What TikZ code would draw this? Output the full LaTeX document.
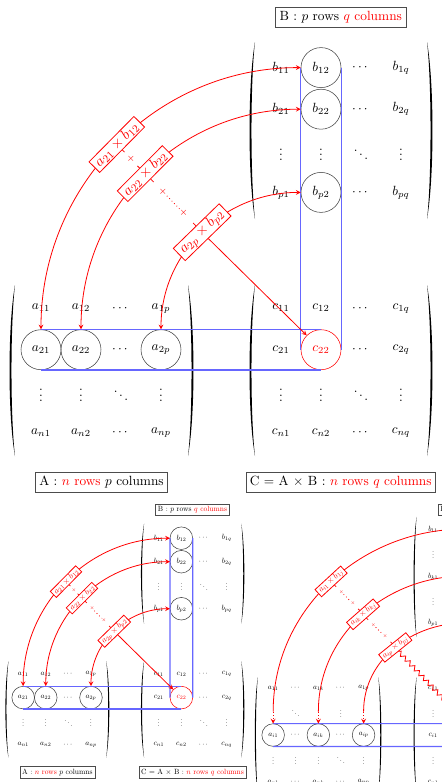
\documentclass[tikz,border=0pt]{standalone}
\usepackage{amsmath, amssymb}
\usepackage{tikz}
\usetikzlibrary{arrows, positioning, calc, decorations.pathmorphing}

\tikzset{
  ent/.style={},
  hl/.style={circle, draw=black!75, minimum size=30pt, inner sep=0pt},
  hlr/.style={hl, draw=red, text=red},
  lab/.style={draw=black!70, fill=white, inner sep=3pt},
  prod/.style={draw=red, fill=white, text=red, sloped, font=\fontsize{11}{13}\selectfont, inner xsep=3pt, inner ysep=1pt},
  plus/.style={text=red, font=\scriptsize, inner sep=1pt, sloped},
  prodline/.style={red, line width=.6pt, >=stealth},
  band/.style={blue!60, line width=.9pt},
}

% one bracket: x of its outer side, top, bottom, 1 for ( and -1 for )
\newcommand{\mparen}[4]{%
  \fill ({#1+5*(#4)}, #2) .. controls ({#1-2.3*(#4)}, {#2-40}) and ({#1-2.3*(#4)}, {#3+40}) .. ({#1+5*(#4)}, #3)
    .. controls ({#1+.3*(#4)}, {#3+40}) and ({#1+.3*(#4)}, {#2-40}) .. cycle;}

% the whole n x p times p x q picture
\newcommand{\mmfig}{%
  \foreach \e/\s [count=\c] in {a_{11}/ent, a_{12}/ent, \cdots/ent, a_{1p}/ent}
    \node[\s] (A-1-\c) at (1+40*\c, -308.1) {$\e$};
  \foreach \e/\s [count=\c] in {a_{21}/hl, a_{22}/hl, \cdots/ent, a_{2p}/hl}
    \node[\s] (A-2-\c) at (1+40*\c, -349.7) {$\e$};
  \foreach \e/\s [count=\c] in {\vdots/ent, \vdots/ent, \ddots/ent, \vdots/ent}
    \node[\s] (A-3-\c) at (1+40*\c, -391.3) {$\e$};
  \foreach \e/\s [count=\c] in {a_{n1}/ent, a_{n2}/ent, \cdots/ent, a_{np}/ent}
    \node[\s] (A-4-\c) at (1+40*\c, -432.9) {$\e$};

  \foreach \e/\s [count=\c] in {b_{11}/ent, b_{12}/hl, \cdots/ent, b_{1q}/ent}
    \node[\s] (B-1-\c) at (241+40*\c, -67.6) {$\e$};
  \foreach \e/\s [count=\c] in {b_{21}/ent, b_{22}/hl, \cdots/ent, b_{2q}/ent}
    \node[\s] (B-2-\c) at (241+40*\c, -109.2) {$\e$};
  \foreach \e/\s [count=\c] in {\vdots/ent, \vdots/ent, \ddots/ent, \vdots/ent}
    \node[\s] (B-3-\c) at (241+40*\c, -150.8) {$\e$};
  \foreach \e/\s [count=\c] in {b_{p1}/ent, b_{p2}/hl, \cdots/ent, b_{pq}/ent}
    \node[\s] (B-4-\c) at (241+40*\c, -192.4) {$\e$};

  \foreach \e/\s [count=\c] in {c_{11}/ent, c_{12}/ent, \cdots/ent, c_{1q}/ent}
    \node[\s] (C-1-\c) at (241+40*\c, -308.1) {$\e$};
  \foreach \e/\s [count=\c] in {c_{21}/ent, c_{22}/hlr, \cdots/ent, c_{2q}/ent}
    \node[\s] (C-2-\c) at (241+40*\c, -349.7) {$\e$};
  \foreach \e/\s [count=\c] in {\vdots/ent, \vdots/ent, \ddots/ent, \vdots/ent}
    \node[\s] (C-3-\c) at (241+40*\c, -391.3) {$\e$};
  \foreach \e/\s [count=\c] in {c_{n1}/ent, c_{n2}/ent, \cdots/ent, c_{nq}/ent}
    \node[\s] (C-4-\c) at (241+40*\c, -432.9) {$\e$};

  \mparen{10}{-285}{-456}{1}   \mparen{193}{-285}{-456}{-1}
  \mparen{250}{-42}{-219}{1}   \mparen{432}{-42}{-219}{-1}
  \mparen{250}{-285}{-456}{1}  \mparen{432}{-285}{-456}{-1}

  \node[lab] (LA) at (101.5,-482) {A : \textcolor{red}{$n$ rows} $p$ columns};
  \node[lab] (LC) at (340.75,-482) {C = A $\times$ B : \textcolor{red}{$n$ rows $q$ columns}};
  \node[lab] (LB) at (340.75,-17.5) {B : $p$ rows \textcolor{red}{$q$ columns}};

  \draw[band] (A-2-1.north) -- (C-2-2.north) (A-2-1.south) -- (C-2-2.south);
  \draw[band] (B-1-2.west) -- (C-2-2.west) (B-1-2.east) -- (C-2-2.east);

  \draw[prodline, <->] (A-2-1.north) to[out=90, in=180] node[prod] (p1) {$a_{21}\times b_{12}$} (B-1-2.west);
  \draw[prodline, <->] (A-2-2.north) to[out=90, in=180] node[prod] (p2) {$a_{22}\times b_{22}$} (B-2-2.west);
  \draw[prodline, <->] (A-2-4.north) to[out=90, in=180] node[prod] (p3) {$a_{2p}\times b_{p2}$} (B-4-2.west);

  \path (p1.south) -- node[plus] (s0) {$+$} (p2.north);
  \draw[prodline] (p1.south) -- ++(-45:3) (p2.north) -- ++(135:3);
  \path (p2.south) -- node[plus, pos=.27] (s1) {$+$} node[plus, pos=.73] (s2) {$+$} (p3.north);
  \draw[prodline] (p2.south) -- ++(-45:4) (p3.north) -- ++(135:4);
  \draw[prodline, dotted] (s1) -- (s2);
  \draw[prodline, ->] (p3.south) -- (C-2-2.north west);
}

\begin{document}
\begin{tikzpicture}[x=0.75pt, y=0.75pt]
\useasboundingbox (0,0) rectangle (442,-782);

\mmfig

% smaller copy
\begin{scope}[shift={(0,-500)}, scale=0.565, transform shape]
  \mmfig
\end{scope}

% general case, cut by the frame
\begin{scope}
\clip (0,0) rectangle (442,-782);
\begin{scope}[shift={(250,-514)}, scale=0.565, transform shape]
  \foreach \e/\s [count=\c] in {a_{11}/ent, \cdots/ent, a_{1k}/ent, \cdots/ent, a_{1p}/ent}
    \node[\s] (Ag-1-\c) at (1+40*\c, -308) {$\e$};
  \foreach \c in {1,3,5}
    \coordinate (Ag-2-\c) at (1+40*\c, -349.6);
  \node (Ag-2-2) at (81, -349.6) {$\ddots$};
  \node (Ag-2-4) at (161, -349.6) {$\vdots$};
  \foreach \e/\s [count=\c] in {a_{i1}/hl, \cdots/ent, a_{ik}/hl, \cdots/ent, a_{ip}/hl}
    \node[\s] (Ag-3-\c) at (1+40*\c, -391.2) {$\e$};
  \foreach \e/\s [count=\c] in {\vdots/ent, \vdots/ent, \vdots/ent, \ddots/ent, \vdots/ent}
    \node[\s] (Ag-4-\c) at (1+40*\c, -432.8) {$\e$};
  \foreach \e/\s [count=\c] in {a_{n1}/ent, \cdots/ent, a_{nk}/ent, \cdots/ent, a_{np}/ent}
    \node[\s] (Ag-5-\c) at (1+40*\c, -474.4) {$\e$};

  \foreach \e/\y [count=\r] in {c_{11}/308, \vdots/349.6, c_{i1}/391.2, \vdots/432.8, c_{n1}/474.4}
    \node (Cg-\r-1) at (324, -\y) {$\e$};
  \node[hlr] (Cg-3-3) at (404, -391.2) {$c_{ij}$};

  \foreach \e/\y [count=\r] in {b_{11}/26.7, \vdots/68.3, b_{k1}/109.9, \vdots/151.5, b_{p1}/193.1}
    \node (Bg-\r-1) at (324, -\y) {$\e$};
  \node[hl] (Bg-1-3) at (404, -26.7) {$b_{1j}$};
  \node[hl] (Bg-3-3) at (404, -109.9) {$b_{kj}$};
  \node[hl] (Bg-5-3) at (404, -193.1) {$b_{pj}$};

  \mparen{9}{-288.5}{-494}{1}  \mparen{232}{-288.5}{-494}{-1}
  \mparen{290}{-5}{-218}{1}
  \mparen{290}{-288.5}{-494}{1}

  \node[lab] (LBg) at (398,8) {B : $p$ rows \textcolor{red}{$q$ columns}};

  \draw[band] (Ag-3-1.north) -- (Cg-3-3.north) (Ag-3-1.south) -- (Cg-3-3.south);
  \draw[band] (Bg-1-3.west) -- (Cg-3-3.west) (Bg-1-3.east) -- (Cg-3-3.east);

  \draw[prodline, ->] (Ag-2-1) to[out=90, in=180] node[prod] (q1) {$a_{i1}\times b_{1j}$} (Bg-1-3.west);
  \draw[prodline, ->] (Ag-2-3) to[out=90, in=180] node[prod] (q2) {$a_{ik}\times b_{kj}$} (Bg-3-3.west);
  \draw[prodline, ->] (Ag-2-5) to[out=90, in=180] node[prod] (q3) {$a_{ip}\times b_{pj}$} (Bg-5-3.west);
  \draw[prodline, dotted, ->] (Ag-2-1) -- (Ag-3-1.north);
  \draw[prodline, dotted, ->] (Ag-2-3) -- (Ag-3-3.north);
  \draw[prodline, dotted, ->] (Ag-2-5) -- (Ag-3-5.north);

  \path (q1.south) -- node[plus, pos=.27] (t1) {$+$} node[plus, pos=.73] (t2) {$+$} (q2.north);
  \draw[prodline] (q1.south) -- ++(-45:4) (q2.north) -- ++(135:4);
  \draw[prodline, dotted] (t1) -- (t2);
  \path (q2.south) -- node[plus, pos=.27] (t3) {$+$} node[plus, pos=.73] (t4) {$+$} (q3.north);
  \draw[prodline] (q2.south) -- ++(-45:4) (q3.north) -- ++(135:4);
  \draw[prodline, dotted] (t3) -- (t4);
  \draw[prodline, decorate, decoration={zigzag, amplitude=1.6pt, segment length=5pt}] (q3.south) -- (Cg-3-3.north west);
\end{scope}
\end{scope}
\end{tikzpicture}
\end{document}
